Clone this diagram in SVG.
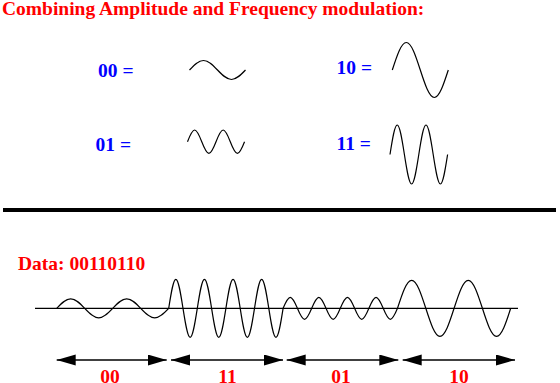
<svg xmlns="http://www.w3.org/2000/svg" width="560" height="383" viewBox="0 0 560 383">
<style>
.t{font-family:"Liberation Serif","Times New Roman",serif;font-weight:bold;font-size:19.5px}
.red{fill:#ff0000}
.blue{fill:#0000ff}
.w{fill:none;stroke:#000;stroke-width:1.2}
.ln{stroke:#000;stroke-width:1.3;fill:none}
</style>
<defs>
<marker id="ah" markerUnits="userSpaceOnUse" markerWidth="20" markerHeight="12" refX="19" refY="5.5" orient="auto-start-reverse">
<path d="M0,0 L19,5.5 L0,11 z" fill="#000"/>
</marker>
</defs>
<rect width="560" height="383" fill="#fff"/>
<text class="t red" x="2" y="14.5">Combining Amplitude and Frequency modulation:</text>

<g id="sym00">
<text class="t blue" x="98" y="77">00 =</text>
<path class="w" d="m189.5,70 c4.57,-4.87 8.93,-9.5 14,-9.5 s9.43,4.63 14,9.5 s8.93,9.5 14,9.5 s9.43,-4.63 14,-9.5"/>
</g>
<g id="sym01">
<text class="t blue" x="95.5" y="150.5">01 =</text>
<path class="w" d="m187.5,141.7 c2.32,-5.99 4.55,-11.7 7.13,-11.7 s4.8,5.71 7.13,11.7 s4.55,11.7 7.13,11.7 s4.8,-5.71 7.13,-11.7 s4.55,-11.7 7.13,-11.7 s4.8,5.71 7.13,11.7 s4.55,11.7 7.13,11.7 s4.8,-5.71 7.13,-11.7"/>
</g>
<g id="sym10">
<text class="t blue" x="336.5" y="74">10 =</text>
<path class="w" d="m392.3,70 c4.57,-14.09 8.93,-27.5 14,-27.5 s9.43,13.41 14,27.5 s8.93,27.5 14,27.5 s9.43,-13.41 14,-27.5"/>
</g>
<g id="sym11">
<text class="t blue" x="336.5" y="150">11 =</text>
<path class="w" d="m390,154.5 c2.35,-15.11 4.59,-29.5 7.2,-29.5 s4.85,14.39 7.2,29.5 s4.59,29.5 7.2,29.5 s4.85,-14.39 7.2,-29.5 s4.59,-29.5 7.2,-29.5 s4.85,14.39 7.2,29.5 s4.59,29.5 7.2,29.5 s4.85,-14.39 7.2,-29.5"/>
</g>

<rect id="divider" x="3" y="208" width="553" height="4" fill="#000"/>

<text class="t red" x="18" y="270">Data: 00110110</text>

<g id="signal">
<line class="ln" x1="35" y1="308.3" x2="518" y2="308.3"/>
<path class="w" d="M56.7,308.3
c4.57,-4.87 8.93,-9.5 14,-9.5 s9.43,4.63 14,9.5 s8.93,9.5 14,9.5 s9.43,-4.63 14,-9.5 s8.93,-9.5 14,-9.5 s9.43,4.63 14,9.5 s8.93,9.5 14,9.5 s9.43,-4.63 14,-9.5
c2.33,-14.86 4.56,-29 7.15,-29 s4.82,14.14 7.15,29 s4.56,29 7.15,29 s4.82,-14.14 7.15,-29
s4.56,-29 7.15,-29 s4.82,14.14 7.15,29 s4.56,29 7.15,29 s4.82,-14.14 7.15,-29
s4.56,-29 7.15,-29 s4.82,14.14 7.15,29 s4.56,29 7.15,29 s4.82,-14.14 7.15,-29
s4.56,-29 7.15,-29 s4.82,14.14 7.15,29 s4.56,29 7.15,29 s4.82,-14.14 7.15,-29
c2.33,-5.64 4.56,-11 7.15,-11 s4.82,5.36 7.15,11 s4.56,11 7.15,11 s4.82,-5.36 7.15,-11
s4.56,-11 7.15,-11 s4.82,5.36 7.15,11 s4.56,11 7.15,11 s4.82,-5.36 7.15,-11
s4.56,-11 7.15,-11 s4.82,5.36 7.15,11 s4.56,11 7.15,11 s4.82,-5.36 7.15,-11
s4.56,-11 7.15,-11 s4.82,5.36 7.15,11 s4.56,11 7.15,11 s4.82,-5.36 7.15,-11
c4.61,-14.34 9.03,-28 14.15,-28 s9.54,13.66 14.15,28 s9.03,28 14.15,28 s9.54,-13.66 14.15,-28
s9.03,-28 14.15,-28 s9.54,13.66 14.15,28 s9.03,28 14.15,28 s9.54,-13.66 14.15,-28"/>
</g>

<g id="connectors">
<line class="ln" x1="56.7" y1="360" x2="166.7" y2="360" marker-start="url(#ah)" marker-end="url(#ah)"/>
<line class="ln" x1="171" y1="360" x2="283" y2="360" marker-start="url(#ah)" marker-end="url(#ah)"/>
<line class="ln" x1="286.7" y1="360" x2="398.3" y2="360" marker-start="url(#ah)" marker-end="url(#ah)"/>
<line class="ln" x1="402.7" y1="360" x2="515" y2="360" marker-start="url(#ah)" marker-end="url(#ah)"/>
</g>
<g id="labels">
<text class="t red" x="110" y="382.5" text-anchor="middle">00</text>
<text class="t red" x="227.5" y="382.5" text-anchor="middle">11</text>
<text class="t red" x="341" y="382.5" text-anchor="middle">01</text>
<text class="t red" x="459" y="382.5" text-anchor="middle">10</text>
</g>
</svg>
